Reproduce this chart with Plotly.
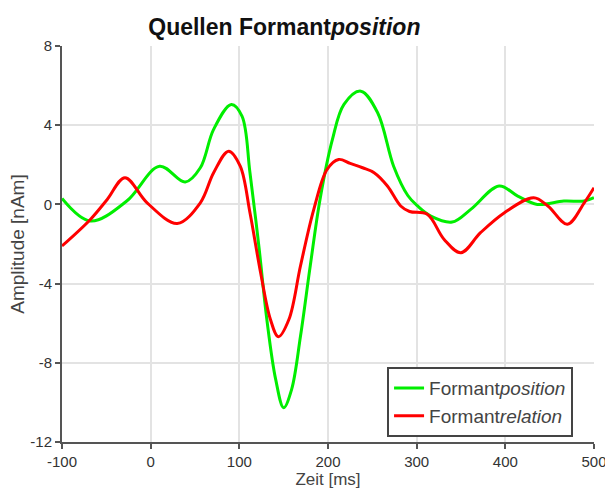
import plotly.graph_objects as go

# Formantposition (green)
pos_x = [-100, -68, -27, 10, 39, 56, 71, 91, 103, 112, 122, 131, 141, 150, 159, 169, 180, 191, 205, 218,
         237, 256, 274, 290, 301, 316, 340, 361, 393, 414, 436, 466, 489, 500]
pos_y = [0.3, -0.84, 0.17, 1.93, 1.13, 1.85, 3.79, 5.05, 4.46, 1.6, -2.1, -5.8, -8.84, -10.27, -9.34, -6.65, -3.1, 0.25, 3.28, 5.05,
         5.72, 4.63, 1.93, 0.45, -0.08, -0.59, -0.89, -0.25, 0.93, 0.42, 0.0, 0.17, 0.17, 0.34]

# Formantrelation (red)
rel_x = [-100, -68, -49, -29, -4, 30, 56, 71, 88, 101, 112, 124, 135, 144, 156, 169, 184, 199, 212,
         225, 239, 252, 267, 282, 292, 312, 331, 350, 372, 399, 432, 448, 470, 489, 500]
rel_y = [-2.1, -0.76, 0.25, 1.35, 0.08, -0.96, 0.08, 1.6, 2.69, 1.93, -0.42, -3.45, -5.8, -6.68, -5.8, -3.1, -0.25, 1.77, 2.27,
         2.07, 1.85, 1.6, 0.93, -0.08, -0.36, -0.5, -1.77, -2.44, -1.43, -0.42, 0.34, -0.08, -1.0, 0.08, 0.84]

x_ticks = [-100, 0, 100, 200, 300, 400, 500]
x_labels = ["-100", "0", "100", "200", "300", "400", "500"]
y_ticks = [-12, -8, -4, 0, 4, 8]
y_labels = ["-12", "-8", "-4", "0", "4", "8"]

fig = go.Figure()
fig.add_trace(go.Scatter(x=pos_x, y=pos_y, mode="lines", name="Formant<i>position</i>",
                         line=dict(color="#00ee00", width=3, shape="spline", smoothing=1.0)))
fig.add_trace(go.Scatter(x=rel_x, y=rel_y, mode="lines", name="Formant<i>relation</i>",
                         line=dict(color="#ff0000", width=3, shape="spline", smoothing=1.0)))

axis_common = dict(showgrid=True, gridcolor="#e3e3e3", gridwidth=1.5, zeroline=False,
                   showline=True, linecolor="#555555", linewidth=2, automargin=False,
                   ticks="outside", ticklen=5, tickcolor="#555555", tickwidth=1.5,
                   ticklabeloverflow="allow",
                   tickfont=dict(family="Liberation Sans, Arial", size=15, color="#333333"))

fig.update_layout(
    width=605, height=490,
    margin=dict(l=62, r=11, t=46, b=48),
    paper_bgcolor="white", plot_bgcolor="white",
    title=dict(text="<b>Quellen Formant<i>position</i></b>", x=0.47, xanchor="center",
               y=0.945, yanchor="middle",
               font=dict(family="Liberation Sans, Arial", size=23, color="#111111")),
    xaxis=dict(range=[-100, 500.01], tickvals=x_ticks, ticktext=x_labels,
               title=dict(text="Zeit [ms]", standoff=2,
                          font=dict(family="Liberation Sans, Arial", size=17, color="#444444")),
               **axis_common),
    yaxis=dict(range=[-12, 8], tickvals=y_ticks, ticktext=y_labels,
               title=dict(text="Amplitude [nAm]", standoff=1,
                          font=dict(family="Liberation Sans, Arial", size=19, color="#444444")),
               **axis_common),
    legend=dict(x=0.611, y=0.189, xanchor="left", yanchor="top",
                bgcolor="white", bordercolor="#444444", borderwidth=2,
                font=dict(family="Liberation Sans, Arial", size=19, color="#444444"),
                itemwidth=30, tracegroupgap=0),
    showlegend=True,
)

fig.write_html("out.html", config={"displayModeBar": False},
               post_script="document.body.style.margin='0';")
